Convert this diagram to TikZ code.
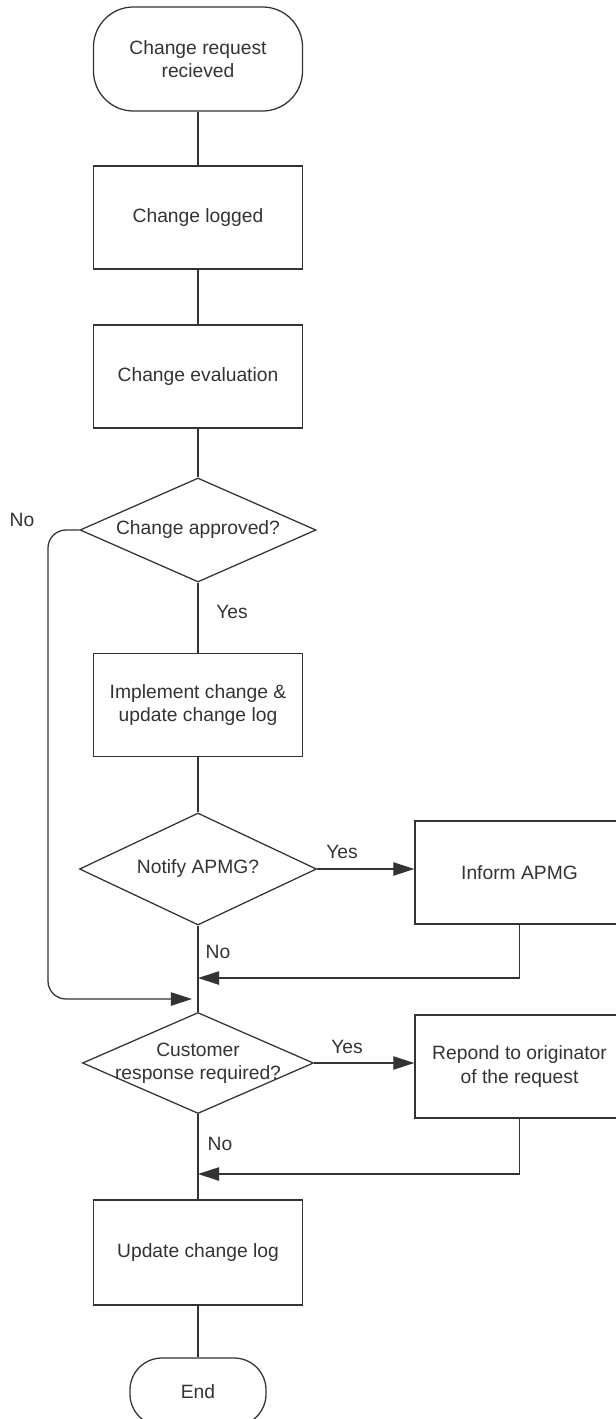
\documentclass[tikz,border=0pt]{standalone}
\usepackage{fontspec}
\setmainfont{Liberation Sans}
\usetikzlibrary{shapes.geometric,arrows.meta}
\begin{document}
\begin{tikzpicture}[x=0.025cm, y=-0.025cm, line width=0.9pt, black!80,
    font=\fontsize{13.7}{16.4}\selectfont, every text node part/.style={align=center}]
        \tikzset{
          stepbox/.style={draw, rectangle, inner sep=0pt, minimum width=5.225cm, minimum height=2.575cm},
          terminal/.style={draw, rectangle, rounded corners=1cm, inner sep=0pt, minimum width=5.225cm, minimum height=2.6cm},
          decision/.style={draw, diamond, shape aspect=2.27, inner sep=0pt, minimum width=5.9cm, minimum height=2.6cm},
          flow/.style={-{Triangle[length=15pt,width=9.5pt]}},
        }
        \useasboundingbox (0,0) rectangle (616,1419);
        \node [terminal] (start) at (198,59) {Change request \\ recieved};
        \node [stepbox] (logged) at (198,217.5) {Change logged};
        \node [stepbox] (evaluation) at (198,376.5) {Change evaluation};
        \node [decision] (approved) at (198,530) {Change approved?};
        \node [stepbox] (implement) at (198,705) {Implement change \& \\ update change log};
        \draw (start.south) -- (logged.north);
        \draw (logged.south) -- (evaluation.north);
        \draw (evaluation.south) -- (approved.north);
        \draw (approved.south) -- (implement.north);
        \node (approvedno) at (22,520) {No};
        \node (approvedyes) at (232,612) {Yes};
        % 
        \node [decision, minimum width=5.925cm, minimum height=2.8cm] (notify) at (198,869) {Notify APMG?};
        \node [stepbox] (inform) at (519.5,872.5) {Inform APMG};
        \node (notifyyes) at (342,852) {Yes};
        \node (notifyno) at (218,952) {No};
        \draw (implement.south) -- (notify.north);
        \draw [flow] (notify.east) -- (notify.east -| inform.west);
        \coordinate (informjoin) at (198,978);
        \draw [flow] (inform.south) |- (informjoin);
        \coordinate (loopleft) at (48,999);
        \coordinate (loopjoin) at (192,999);
        \draw [flow, rounded corners=0.45cm] (approved.west) -| (loopleft) -- (loopjoin);
        % 
        \node [decision, minimum width=5.775cm, minimum height=2.525cm] (customer) at (198,1063) {\makebox[0pt]{Customer} \\ \makebox[0pt]{response required?}};
        \node [stepbox] (respond) at (519.5,1066.5) {Repond to originator \\ of the request};
        \node (customeryes) at (347,1047) {Yes};
        \node (customerno) at (220,1144) {No};
        \draw (notify.south) -- (customer.north);
        \draw [flow] (customer.east) -- (customer.east -| respond.west);
        \coordinate (respondjoin) at (198,1174);
        \draw [flow] (respond.south) |- (respondjoin);
        % 
        \node [stepbox, minimum height=2.625cm] (update) at (198,1252.5) {Update change log};
        \node [terminal, minimum width=3.4cm, minimum height=1.7cm, rounded corners=0.8cm] (end) at (198,1392) {End};
        \draw (customer.south) -- (update.north);
        \draw (update.south) -- (end.north);
    \end{tikzpicture}
\end{document}
